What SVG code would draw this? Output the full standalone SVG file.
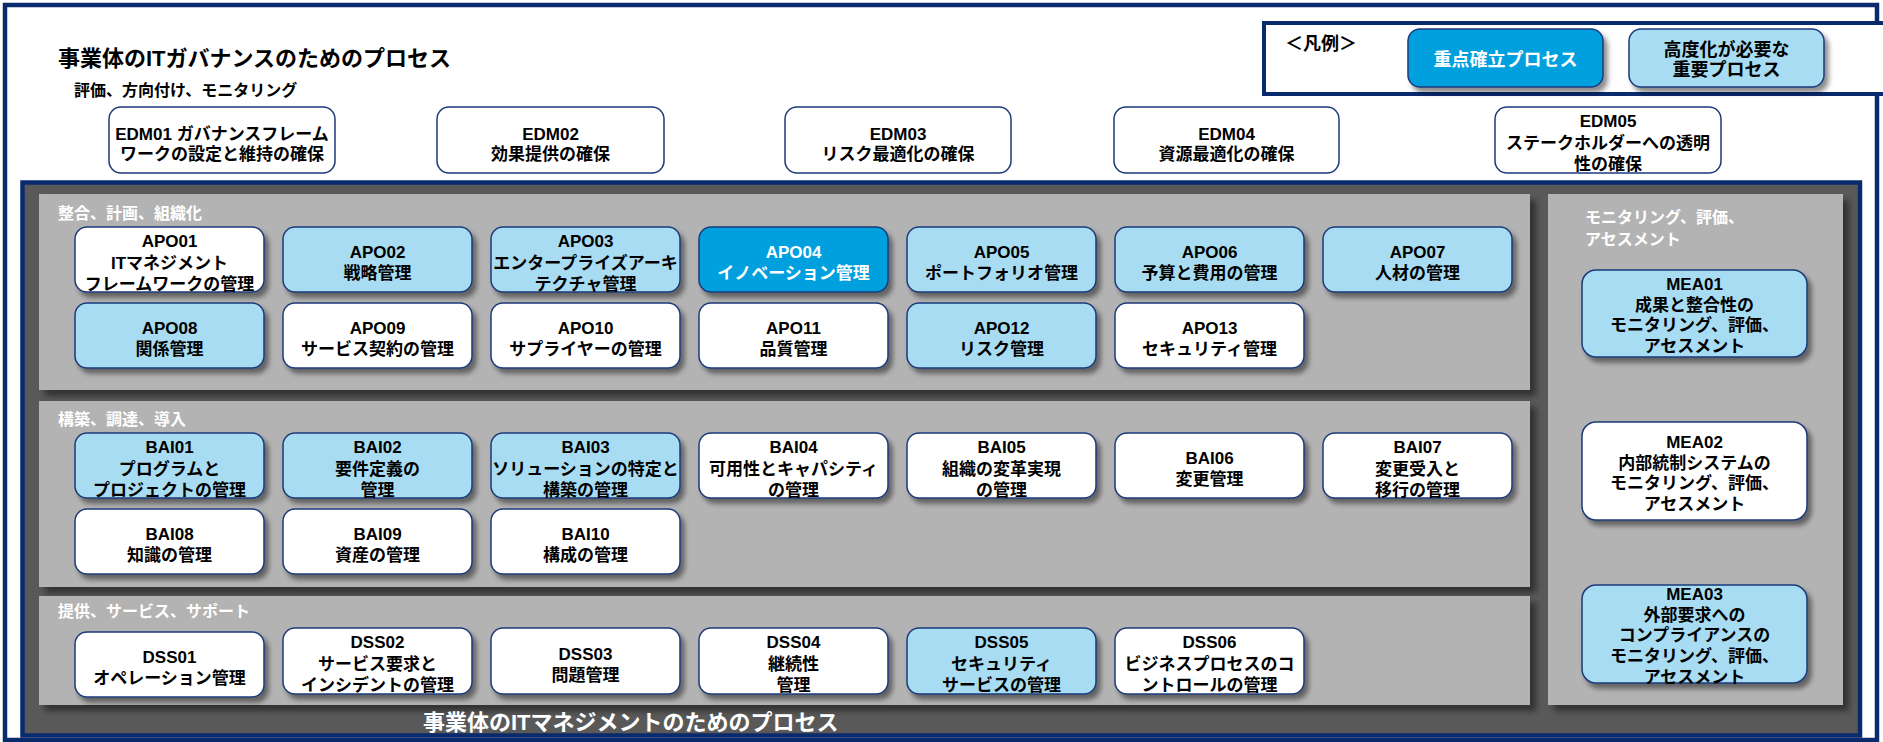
<svg xmlns="http://www.w3.org/2000/svg" width="1883" height="742" viewBox="0 0 1883 742">
<defs>
<filter id="sh" x="-10%" y="-10%" width="130%" height="140%"><feDropShadow dx="4" dy="5" stdDeviation="2.5" flood-color="#000" flood-opacity="0.45"/></filter>
<filter id="psh" x="-5%" y="-5%" width="110%" height="115%"><feDropShadow dx="6" dy="6" stdDeviation="3" flood-color="#000" flood-opacity="0.45"/></filter>
</defs>
<style>
text{font-family:'Liberation Sans','Noto Sans CJK JP',sans-serif;font-weight:bold}
.bx text{font-size:17px;text-anchor:middle;fill:#000}
.bx rect{stroke:#1b3a7a;stroke-width:1.5}
.w rect{fill:#fff}
.l rect{fill:#A8DCF2}
.b rect{fill:#00A0DE}
.b text{fill:#fff}
.sd{filter:url(#sh)}
.panel{fill:#B3B3B3;filter:url(#psh)}
.plab{font-size:16px;fill:#fff}
.edm rect{fill:#fff;stroke:#1b3a7a;stroke-width:1.5}
</style>
<!-- outer frame -->
<rect x="5" y="5" width="1872" height="735" fill="#fff" stroke="#0a2a6e" stroke-width="4.5"/>
<text x="58" y="66" font-size="22" fill="#000">事業体のITガバナンスのためのプロセス</text>
<text x="74" y="96" font-size="16" fill="#000">評価、方向付け、モニタリング</text>
<!-- legend -->
<g id="legend">
<rect x="1264" y="23" width="1577" height="71" fill="#fff" stroke="#0a2a6e" stroke-width="4"/>
<text x="1285" y="50" font-size="18" fill="#000">＜凡例＞</text>
<g class="bx b"><rect class="sd" x="1408" y="29" width="195" height="58" rx="12"/><text x="1505.5" y="66" font-size="18" style="font-size:18px">重点確立プロセス</text></g>
<g class="bx l"><rect class="sd" x="1629" y="29" width="195" height="58" rx="12"/><text x="1726.5" y="56" style="font-size:18px">高度化が必要な</text><text x="1726.5" y="76" style="font-size:18px">重要プロセス</text></g>
</g>
<!-- EDM -->
<g id="EDM01" class="bx edm"><rect x="109" y="107" width="226" height="66" rx="12"/><text x="222" y="140">EDM01 ガバナンスフレーム</text><text x="222" y="160">ワークの設定と維持の確保</text></g>
<g id="EDM02" class="bx edm"><rect x="437" y="107" width="227" height="66" rx="12"/><text x="550.5" y="140">EDM02</text><text x="550.5" y="160">効果提供の確保</text></g>
<g id="EDM03" class="bx edm"><rect x="785" y="107" width="226" height="66" rx="12"/><text x="898" y="140">EDM03</text><text x="898" y="160">リスク最適化の確保</text></g>
<g id="EDM04" class="bx edm"><rect x="1114" y="107" width="225" height="66" rx="12"/><text x="1226.5" y="140">EDM04</text><text x="1226.5" y="160">資源最適化の確保</text></g>
<g id="EDM05" class="bx edm"><rect x="1495" y="107" width="226" height="66" rx="12"/><text x="1608" y="127">EDM05</text><text x="1608" y="149">ステークホルダーへの透明</text><text x="1608" y="170">性の確保</text></g>
<!-- inner frame -->
<rect x="22.5" y="182.5" width="1837.5" height="553" fill="#595959" stroke="#0a2a6e" stroke-width="4.5"/>
<rect class="panel" x="39" y="194" width="1491" height="196"/>
<rect class="panel" x="39" y="401" width="1491" height="186"/>
<rect class="panel" x="39" y="596" width="1491" height="109"/>
<rect class="panel" x="1548" y="194" width="295" height="511"/>
<text class="plab" x="58" y="219">整合、計画、組織化</text>
<text class="plab" x="58" y="425">構築、調達、導入</text>
<text class="plab" x="58" y="617">提供、サービス、サポート</text>
<text class="plab" x="1585" y="223">モニタリング、評価、</text>
<text class="plab" x="1585" y="245">アセスメント</text>
<text x="423" y="730" font-size="22" fill="#fff">事業体のITマネジメントのためのプロセス</text>
<!-- APO -->
<g id="APO01" class="bx w"><rect class="sd" x="75" y="227" width="189" height="65" rx="12"/><text x="169.5" y="247">APO01</text><text x="169.5" y="269">ITマネジメント</text><text x="169.5" y="290">フレームワークの管理</text></g>
<g id="APO02" class="bx l"><rect class="sd" x="283" y="227" width="189" height="65" rx="12"/><text x="377.5" y="258">APO02</text><text x="377.5" y="279">戦略管理</text></g>
<g id="APO03" class="bx l"><rect class="sd" x="491" y="227" width="189" height="65" rx="12"/><text x="585.5" y="247">APO03</text><text x="585.5" y="269">エンタープライズアーキ</text><text x="585.5" y="290">テクチャ管理</text></g>
<g id="APO04" class="bx b"><rect class="sd" x="699" y="227" width="189" height="65" rx="12"/><text x="793.5" y="258">APO04</text><text x="793.5" y="279">イノベーション管理</text></g>
<g id="APO05" class="bx l"><rect class="sd" x="907" y="227" width="189" height="65" rx="12"/><text x="1001.5" y="258">APO05</text><text x="1001.5" y="279">ポートフォリオ管理</text></g>
<g id="APO06" class="bx l"><rect class="sd" x="1115" y="227" width="189" height="65" rx="12"/><text x="1209.5" y="258">APO06</text><text x="1209.5" y="279">予算と費用の管理</text></g>
<g id="APO07" class="bx l"><rect class="sd" x="1323" y="227" width="189" height="65" rx="12"/><text x="1417.5" y="258">APO07</text><text x="1417.5" y="279">人材の管理</text></g>
<g id="APO08" class="bx l"><rect class="sd" x="75" y="303" width="189" height="65" rx="12"/><text x="169.5" y="334">APO08</text><text x="169.5" y="355">関係管理</text></g>
<g id="APO09" class="bx w"><rect class="sd" x="283" y="303" width="189" height="65" rx="12"/><text x="377.5" y="334">APO09</text><text x="377.5" y="355">サービス契約の管理</text></g>
<g id="APO10" class="bx w"><rect class="sd" x="491" y="303" width="189" height="65" rx="12"/><text x="585.5" y="334">APO10</text><text x="585.5" y="355">サプライヤーの管理</text></g>
<g id="APO11" class="bx w"><rect class="sd" x="699" y="303" width="189" height="65" rx="12"/><text x="793.5" y="334">APO11</text><text x="793.5" y="355">品質管理</text></g>
<g id="APO12" class="bx l"><rect class="sd" x="907" y="303" width="189" height="65" rx="12"/><text x="1001.5" y="334">APO12</text><text x="1001.5" y="355">リスク管理</text></g>
<g id="APO13" class="bx w"><rect class="sd" x="1115" y="303" width="189" height="65" rx="12"/><text x="1209.5" y="334">APO13</text><text x="1209.5" y="355">セキュリティ管理</text></g>
<!-- BAI -->
<g id="BAI01" class="bx l"><rect class="sd" x="75" y="433" width="189" height="65" rx="12"/><text x="169.5" y="453">BAI01</text><text x="169.5" y="475">プログラムと</text><text x="169.5" y="496">プロジェクトの管理</text></g>
<g id="BAI02" class="bx l"><rect class="sd" x="283" y="433" width="189" height="65" rx="12"/><text x="377.5" y="453">BAI02</text><text x="377.5" y="475">要件定義の</text><text x="377.5" y="496">管理</text></g>
<g id="BAI03" class="bx l"><rect class="sd" x="491" y="433" width="189" height="65" rx="12"/><text x="585.5" y="453">BAI03</text><text x="585.5" y="475">ソリューションの特定と</text><text x="585.5" y="496">構築の管理</text></g>
<g id="BAI04" class="bx w"><rect class="sd" x="699" y="433" width="189" height="65" rx="12"/><text x="793.5" y="453">BAI04</text><text x="793.5" y="475">可用性とキャパシティ</text><text x="793.5" y="496">の管理</text></g>
<g id="BAI05" class="bx w"><rect class="sd" x="907" y="433" width="189" height="65" rx="12"/><text x="1001.5" y="453">BAI05</text><text x="1001.5" y="475">組織の変革実現</text><text x="1001.5" y="496">の管理</text></g>
<g id="BAI06" class="bx w"><rect class="sd" x="1115" y="433" width="189" height="65" rx="12"/><text x="1209.5" y="464">BAI06</text><text x="1209.5" y="485">変更管理</text></g>
<g id="BAI07" class="bx w"><rect class="sd" x="1323" y="433" width="189" height="65" rx="12"/><text x="1417.5" y="453">BAI07</text><text x="1417.5" y="475">変更受入と</text><text x="1417.5" y="496">移行の管理</text></g>
<g id="BAI08" class="bx w"><rect class="sd" x="75" y="509" width="189" height="65" rx="12"/><text x="169.5" y="540">BAI08</text><text x="169.5" y="561">知識の管理</text></g>
<g id="BAI09" class="bx w"><rect class="sd" x="283" y="509" width="189" height="65" rx="12"/><text x="377.5" y="540">BAI09</text><text x="377.5" y="561">資産の管理</text></g>
<g id="BAI10" class="bx w"><rect class="sd" x="491" y="509" width="189" height="65" rx="12"/><text x="585.5" y="540">BAI10</text><text x="585.5" y="561">構成の管理</text></g>
<!-- DSS -->
<g id="DSS01" class="bx w"><rect class="sd" x="75" y="632" width="189" height="65" rx="12"/><text x="169.5" y="663">DSS01</text><text x="169.5" y="684">オペレーション管理</text></g>
<g id="DSS02" class="bx w"><rect class="sd" x="283" y="628" width="189" height="66" rx="12"/><text x="377.5" y="648">DSS02</text><text x="377.5" y="670">サービス要求と</text><text x="377.5" y="691">インシデントの管理</text></g>
<g id="DSS03" class="bx w"><rect class="sd" x="491" y="628" width="189" height="66" rx="12"/><text x="585.5" y="660">DSS03</text><text x="585.5" y="681">問題管理</text></g>
<g id="DSS04" class="bx w"><rect class="sd" x="699" y="628" width="189" height="66" rx="12"/><text x="793.5" y="648">DSS04</text><text x="793.5" y="670">継続性</text><text x="793.5" y="691">管理</text></g>
<g id="DSS05" class="bx l"><rect class="sd" x="907" y="628" width="189" height="66" rx="12"/><text x="1001.5" y="648">DSS05</text><text x="1001.5" y="670">セキュリティ</text><text x="1001.5" y="691">サービスの管理</text></g>
<g id="DSS06" class="bx w"><rect class="sd" x="1115" y="628" width="189" height="66" rx="12"/><text x="1209.5" y="648">DSS06</text><text x="1209.5" y="670">ビジネスプロセスのコ</text><text x="1209.5" y="691">ントロールの管理</text></g>
<!-- MEA -->
<g id="MEA01" class="bx l"><rect class="sd" x="1582" y="270" width="225" height="87" rx="14"/><text x="1694.5" y="290">MEA01</text><text x="1694.5" y="311">成果と整合性の</text><text x="1694.5" y="331">モニタリング、評価、</text><text x="1694.5" y="352">アセスメント</text></g>
<g id="MEA02" class="bx w"><rect class="sd" x="1582" y="422" width="225" height="98" rx="14"/><text x="1694.5" y="448">MEA02</text><text x="1694.5" y="469">内部統制システムの</text><text x="1694.5" y="489">モニタリング、評価、</text><text x="1694.5" y="510">アセスメント</text></g>
<g id="MEA03" class="bx l"><rect class="sd" x="1582" y="585" width="225" height="98" rx="14"/><text x="1694.5" y="600">MEA03</text><text x="1694.5" y="621">外部要求への</text><text x="1694.5" y="641">コンプライアンスの</text><text x="1694.5" y="662">モニタリング、評価、</text><text x="1694.5" y="683">アセスメント</text></g>
<g id="connectors"></g>
</svg>
